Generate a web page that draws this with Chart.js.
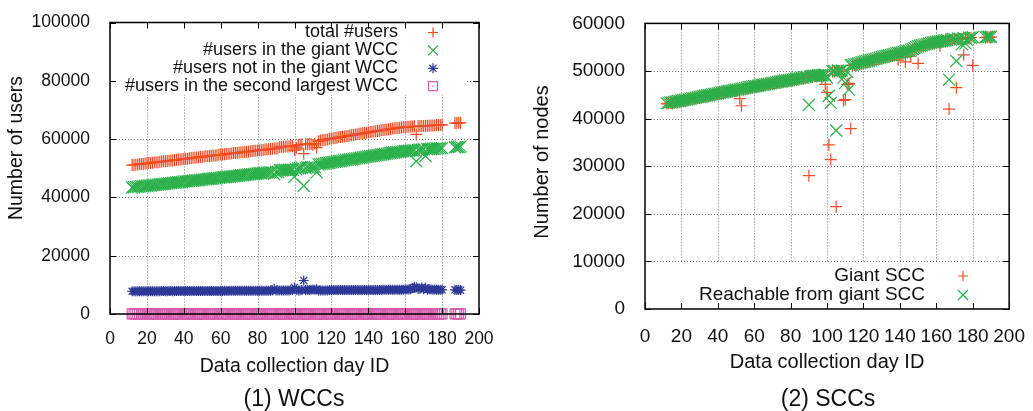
<!DOCTYPE html>
<html>
<head>
<meta charset="utf-8">
<script src="https://cdn.jsdelivr.net/npm/chart.js@4.4.1/dist/chart.umd.min.js"></script>
<style>
  html, body { margin: 0; padding: 0; background: #fff; overflow: hidden; }
  body { width: 1033px; height: 411px; position: relative; font-family: "Liberation Sans", Arial, Helvetica, sans-serif; }
  .panel { position: absolute; top: 0; }
  .caption { position: absolute; font-size: 23px; line-height: 23px; color: #111; white-space: nowrap; transform: translateX(-50%); }
</style>
</head>
<body>
<div class="panel" style="left:0"><canvas id="wcc" width="520" height="411"></canvas></div>
<div class="panel" style="left:520px"><canvas id="scc" width="513" height="411"></canvas></div>
<div class="caption" style="left:294px; top:387px">(1) WCCs</div>
<div class="caption" style="left:828px; top:387px">(2) SCCs</div>
<script>
const days = [
  12, 13, 14, 15, 16, 17, 18, 19, 20, 21,
  22, 23, 24, 25, 26, 27, 28, 29, 30, 31,
  32, 33, 34, 35, 36, 37, 38, 39, 40, 41,
  42, 43, 44, 45, 46, 47, 48, 49, 50, 51,
  52, 53, 54, 55, 56, 57, 58, 59, 60, 61,
  62, 63, 64, 65, 66, 67, 68, 69, 70, 71,
  72, 73, 74, 75, 76, 77, 78, 79, 80, 81,
  82, 83, 84, 85, 86, 87, 88, 89, 90, 91,
  92, 93, 94, 95, 96, 97, 98, 99, 100, 101,
  102, 103, 104, 105, 106, 107, 108, 109, 110, 111,
  112, 113, 114, 115, 116, 117, 118, 119, 120, 121,
  122, 123, 124, 125, 126, 127, 128, 129, 130, 131,
  132, 133, 134, 135, 136, 137, 138, 139, 140, 141,
  142, 143, 144, 145, 146, 147, 148, 149, 150, 151,
  152, 153, 154, 155, 156, 157, 158, 159, 160, 161,
  162, 163, 164, 165, 166, 167, 168, 169, 170, 171,
  172, 173, 174, 175, 176, 177, 178, 179, 180,
  187, 188, 189, 190,
];

// (1) WCCs
const totalUsers = [
  51100, 51200, 51200, 51300, 51400, 51500, 51500, 51600, 51700, 51800,
  51800, 51900, 52000, 52100, 52100, 52200, 52300, 52400, 52400, 52500,
  52600, 52700, 52700, 52800, 52900, 53000, 53000, 53100, 53200, 53300,
  53300, 53400, 53500, 53600, 53600, 53700, 53800, 53900, 53900, 54000,
  54100, 54100, 54200, 54300, 54400, 54400, 54500, 54600, 54700, 54700,
  54800, 54900, 55000, 55000, 55100, 55200, 55200, 55300, 55400, 55500,
  55500, 55600, 55700, 55700, 55800, 55900, 56000, 56000, 56100, 56200,
  56200, 56300, 56400, 56500, 56500, 56600, 56700, 56700, 56800, 56900,
  57300, 57400, 57400, 57500, 57500, 57500, 57600, 57600, 56200, 57000,
  58000, 58100, 58200, 55000, 58300, 58200, 58400, 58300, 58000, 58400,
  57100, 59300, 59500, 59600, 59700, 59800, 59900, 60100, 60200, 60300,
  60400, 60500, 60600, 60700, 60800, 60900, 61000, 61100, 61200, 61300,
  61400, 61600, 61700, 61800, 61900, 62000, 62100, 62200, 62300, 62400,
  62500, 62600, 62700, 62800, 62900, 63000, 63100, 63200, 63300, 63400,
  63500, 63600, 63700, 63800, 63800, 63900, 64000, 64100, 64100, 64200,
  64200, 64300, 64300, 64400, 61600, 64400, 64500, 64500, 64500, 64600,
  64600, 64600, 64700, 64700, 64700, 64800, 64800, 64800, 64900,
  65500, 65500, 65600, 65600,
];
const giantWcc = [
  43400, 43500, 43600, 43600, 43700, 43800, 43800, 43900, 44000, 44100,
  44100, 44200, 44300, 44300, 44400, 44500, 44500, 44600, 44700, 44800,
  44800, 44900, 45000, 45000, 45100, 45200, 45200, 45300, 45400, 45500,
  45500, 45600, 45700, 45700, 45800, 45900, 45900, 46000, 46100, 46200,
  46200, 46300, 46400, 46400, 46500, 46600, 46600, 46700, 46800, 46900,
  46900, 47000, 47100, 47100, 47200, 47300, 47300, 47400, 47500, 47600,
  47600, 47700, 47800, 47800, 47900, 48000, 48000, 48100, 48200, 48300,
  48300, 48400, 48400, 48500, 48500, 48600, 48600, 48000, 48700, 48800,
  49300, 49300, 49400, 49400, 49400, 49500, 49500, 49500, 47100, 49600,
  50000, 50100, 50200, 44000, 50100, 50300, 50200, 50400, 50300, 50400,
  48600, 51300, 51400, 51500, 51600, 51700, 51800, 51900, 52000, 52100,
  52200, 52300, 52400, 52500, 52600, 52700, 52800, 52900, 53000, 53100,
  53200, 53300, 53400, 53500, 53600, 53700, 53800, 53900, 54000, 54100,
  54200, 54300, 54400, 54500, 54600, 54700, 54800, 54900, 55000, 55100,
  55200, 55300, 55400, 55500, 55600, 55600, 55700, 55800, 55900, 55900,
  56000, 56100, 56100, 56200, 52400, 56300, 56400, 56400, 56500, 54200,
  56500, 56600, 56600, 56700, 56700, 56800, 56800, 56900, 56900,
  57200, 57300, 57300, 57400,
];
const notGiantWcc = [
  7800, 7800, 7700, 7800, 7800, 7800, 7800, 7800, 7800, 7800,
  7800, 7800, 7800, 7800, 7800, 7800, 7900, 7900, 7800, 7800,
  7900, 7900, 7800, 7900, 7900, 7900, 7900, 7900, 7900, 7900,
  7900, 7900, 7900, 7900, 7900, 7900, 7900, 7900, 7900, 7900,
  7900, 7900, 7900, 7900, 7900, 7900, 7900, 7900, 7900, 7900,
  8000, 8000, 7900, 8000, 8000, 8000, 8000, 8000, 8000, 8000,
  8000, 8000, 8000, 8000, 8000, 8000, 8000, 8000, 8000, 8000,
  8000, 8000, 8000, 8000, 8000, 8000, 8100, 8700, 8100, 8100,
  8100, 8100, 8100, 8100, 8100, 8100, 8200, 8200, 9100, 8300,
  8100, 8100, 8200, 11500, 8200, 8300, 8200, 8300, 8400, 8300,
  8500, 8100, 8100, 8100, 8100, 8100, 8100, 8200, 8200, 8200,
  8200, 8200, 8200, 8200, 8200, 8200, 8200, 8200, 8200, 8200,
  8200, 8200, 8200, 8200, 8200, 8200, 8200, 8200, 8200, 8200,
  8200, 8200, 8200, 8200, 8200, 8200, 8300, 8300, 8300, 8300,
  8300, 8300, 8300, 8300, 8300, 8300, 8300, 8300, 8400, 8400,
  8400, 8500, 8900, 9200, 9200, 8600, 8700, 9100, 8500, 9000,
  8400, 8500, 8400, 8300, 8400, 8300, 8300, 8300, 8300,
  8300, 8200, 8300, 8200,
];
const secondWcc = [
  40, 30, 30, 40, 50, 30, 20, 40, 30, 30,
  40, 30, 50, 30, 30, 40, 20, 30, 40, 30,
  30, 40, 30, 20, 30, 50, 30, 30, 40, 30,
  30, 30, 40, 30, 30, 20, 30, 40, 30, 30,
  50, 30, 30, 40, 30, 30, 30, 20, 30, 40,
  30, 30, 40, 30, 30, 50, 30, 30, 40, 30,
  30, 20, 30, 40, 30, 30, 30, 40, 30, 30,
  40, 30, 30, 30, 50, 30, 30, 40, 30, 30,
  30, 40, 30, 30, 20, 30, 40, 30, 60, 30,
  30, 40, 30, 70, 30, 30, 40, 30, 30, 40,
  30, 30, 40, 30, 30, 30, 20, 30, 40, 30,
  30, 40, 30, 30, 50, 30, 30, 40, 30, 30,
  30, 30, 40, 30, 30, 20, 30, 40, 30, 30,
  40, 30, 30, 30, 50, 30, 30, 40, 30, 30,
  30, 40, 30, 30, 20, 30, 40, 30, 30, 30,
  40, 30, 30, 50, 40, 30, 30, 40, 30, 30,
  30, 40, 30, 30, 30, 20, 30, 40, 30,
  30, 40, 30, 30,
];

// (2) SCCs
const giantScc = [
  43100, 43200, 43300, 43300, 43400, 43500, 43600, 43600, 43700, 43800,
  43900, 43900, 44000, 44100, 44200, 44200, 44300, 44400, 44500, 44500,
  44600, 44700, 44800, 44800, 44900, 45000, 45100, 45100, 45200, 45300,
  45400, 45400, 45500, 45600, 45700, 45700, 45800, 45900, 46000, 46000,
  44200, 42700, 46200, 46300, 46400, 46500, 46500, 46600, 46700, 46700,
  46800, 46900, 47000, 47000, 47100, 47200, 47200, 47300, 47400, 47400,
  47500, 47600, 47700, 47700, 47800, 47900, 47900, 48000, 48100, 48100,
  48200, 48300, 48300, 48400, 48500, 48500, 48600, 48700, 28000, 48800,
  48900, 48900, 48900, 49000, 49000, 49000, 49100, 47200, 45500, 34500,
  31400, 49900, 49900, 21500, 50000, 49900, 50000, 43800, 44000, 47200,
  47400, 37900, 51200, 51300, 51400, 51500, 51600, 51700, 51800, 51900,
  52000, 52100, 52200, 52300, 52400, 52500, 52600, 52700, 52800, 52900,
  53000, 53100, 53200, 53300, 53400, 53500, 53600, 52300, 53700, 53800,
  53900, 51900, 54100, 54200, 53100, 54500, 54700, 54900, 51600, 55200,
  55300, 55400, 55500, 55600, 55700, 55800, 55900, 55900, 56000, 56100,
  55300, 56200, 56300, 56300, 56400, 42000, 56500, 56600, 56600, 46500,
  56700, 56700, 56800, 53400, 56800, 56900, 56900, 57000, 51200,
  57000, 57100, 57100, 57100,
];
const reachableScc = [
  43200, 43300, 43400, 43400, 43500, 43600, 43700, 43700, 43800, 43900,
  44000, 44000, 44100, 44200, 44300, 44300, 44400, 44500, 44600, 44600,
  44700, 44800, 44900, 44900, 45000, 45100, 45200, 45200, 45300, 45400,
  45500, 45500, 45600, 45700, 45800, 45800, 45900, 46000, 46100, 46100,
  46200, 46300, 46300, 46400, 46500, 46600, 46600, 46700, 46800, 46800,
  46900, 47000, 47100, 47100, 47200, 47300, 47300, 47400, 47500, 47500,
  47600, 47700, 47800, 47800, 47900, 48000, 48000, 48100, 48200, 48200,
  48300, 48400, 48400, 48500, 48600, 48600, 48700, 48800, 42900, 48900,
  49000, 49000, 49000, 49100, 49100, 49100, 49200, 49200, 48600, 44800,
  43300, 50000, 50000, 37500, 50100, 50000, 50100, 48600, 47500, 49800,
  46100, 51200, 51300, 51400, 51500, 51600, 51700, 51800, 51900, 52000,
  52100, 52200, 52300, 52400, 52500, 52600, 52700, 52800, 52900, 53000,
  53100, 53200, 53300, 53400, 53500, 53600, 53700, 53800, 53800, 53900,
  54000, 54100, 54200, 54300, 54500, 54600, 54800, 55000, 55200, 55300,
  55400, 55500, 55600, 55700, 55800, 55900, 56000, 56000, 56100, 56200,
  56200, 56300, 56400, 56400, 56500, 48200, 56600, 56700, 56700, 52100,
  56800, 56800, 55600, 56900, 55800, 56500, 57000, 57000, 57100,
  57100, 57200, 57200, 57200,
];

const RED = "rgb(240,76,36)";
const GREEN = "rgb(42,176,74)";
const BLUE = "rgb(44,56,150)";
const PINK = "rgb(214,92,172)";
const FONT = '"Liberation Sans", Arial, Helvetica, sans-serif';

function points(values) {
  return days.map((d, i) => ({ x: d, y: values[i] }));
}

function series(label, values, style, radius, color, order, extra) {
  return Object.assign({
    label,
    data: points(values),
    showLine: false,
    pointStyle: style,
    pointRadius: radius,
    pointHoverRadius: radius,
    borderColor: color,
    pointBorderColor: color,
    pointBackgroundColor: "rgba(0,0,0,0)",
    pointBorderWidth: 1.2,
    order,
  }, extra || {});
}

// gnuplot-like marks for the key
function drawMark(ctx, style, x, y, h) {
  ctx.beginPath();
  if (style === "cross" || style === "star") {
    ctx.moveTo(x - h, y); ctx.lineTo(x + h, y);
    ctx.moveTo(x, y - h); ctx.lineTo(x, y + h);
  }
  if (style === "crossRot" || style === "star") {
    const d = style === "star" ? h * Math.SQRT1_2 : h;
    ctx.moveTo(x - d, y - d); ctx.lineTo(x + d, y + d);
    ctx.moveTo(x - d, y + d); ctx.lineTo(x + d, y - d);
  }
  if (style === "rect") {
    ctx.rect(x - h, y - h, 2 * h, 2 * h);
    ctx.moveTo(x - 0.6, y); ctx.lineTo(x + 0.6, y);
  }
  ctx.stroke();
}

const gnuplotPlugin = {
  id: "gnuplot",
  beforeDatasetsDraw(chart) {
    const { ctx, chartArea: a, scales: { x, y } } = chart;
    ctx.save();
    ctx.strokeStyle = "#777";
    ctx.lineWidth = 1;
    ctx.setLineDash([1, 2]);
    x.ticks.forEach((t) => {
      if (t.value <= x.min || t.value >= x.max) return;
      const px = Math.round(x.getPixelForValue(t.value)) + 0.5;
      ctx.beginPath(); ctx.moveTo(px, a.top); ctx.lineTo(px, a.bottom); ctx.stroke();
    });
    y.ticks.forEach((t) => {
      if (t.value <= y.min || t.value >= y.max) return;
      const py = Math.round(y.getPixelForValue(t.value)) + 0.5;
      ctx.beginPath(); ctx.moveTo(a.left, py); ctx.lineTo(a.right, py); ctx.stroke();
    });
    ctx.restore();
  },
  afterDatasetsDraw(chart, args, opts) {
    const { ctx, chartArea: a, scales: { x, y } } = chart;
    ctx.save();
    // opaque key
    const b = opts.box;
    ctx.fillStyle = "#fff";
    ctx.fillRect(b[0], b[1], b[2], b[3]);
    ctx.font = opts.keySize + "px " + FONT;
    ctx.textAlign = "right";
    ctx.textBaseline = "middle";
    chart.data.datasets.forEach((ds, i) => {
      const ky = opts.keyTop + i * opts.keyStep;
      ctx.fillStyle = "#111";
      ctx.fillText(ds.label, opts.keyRight, ky);
      ctx.strokeStyle = ds.borderColor;
      ctx.lineWidth = 1.2;
      drawMark(ctx, ds.pointStyle, opts.markX, ky, ds.pointStyle === "rect" ? 4.5 : 5);
    });
    // border with inward ticks on all sides
    ctx.strokeStyle = "#000";
    ctx.lineWidth = 1;
    const tl = 6;
    ctx.beginPath();
    x.ticks.forEach((t) => {
      const px = Math.round(x.getPixelForValue(t.value)) + 0.5;
      ctx.moveTo(px, a.bottom); ctx.lineTo(px, a.bottom - tl);
      ctx.moveTo(px, a.top); ctx.lineTo(px, a.top + tl);
    });
    y.ticks.forEach((t) => {
      const py = Math.round(y.getPixelForValue(t.value)) + 0.5;
      ctx.moveTo(a.left, py); ctx.lineTo(a.left + tl, py);
      ctx.moveTo(a.right, py); ctx.lineTo(a.right - tl, py);
    });
    ctx.stroke();
    ctx.lineWidth = 1.5;
    ctx.strokeRect(a.left, a.top, a.right - a.left, a.bottom - a.top);
    ctx.restore();
  },
  afterDraw(chart, args, opts) {
    const { ctx } = chart;
    ctx.save();
    ctx.font = opts.yTitleSize + "px " + FONT;
    ctx.fillStyle = "#111";
    ctx.textAlign = "center";
    ctx.textBaseline = "middle";
    ctx.translate(opts.yTitleX, opts.yTitleY);
    ctx.rotate(-Math.PI / 2);
    ctx.fillText(opts.yTitle, 0, 0);
    ctx.restore();
  },
};

function makeChart(id, cfg) {
  return new Chart(document.getElementById(id), {
    type: "scatter",
    data: { datasets: cfg.datasets },
    options: {
      responsive: false,
      animation: false,
      events: [],
      layout: { padding: { left: 0, right: cfg.padRight, top: cfg.padTop, bottom: 0 } },
      scales: {
        x: {
          type: "linear",
          min: 0,
          max: 200,
          grid: { display: false },
          border: { display: false },
          ticks: {
            stepSize: 20,
            padding: cfg.xTickPad,
            color: "#111",
            maxRotation: 0,
            autoSkip: false,
            font: { family: FONT, size: cfg.tickSize },
            callback: (v) => String(v),
          },
          title: {
            display: true,
            text: "Data collection day ID",
            color: "#111",
            font: { family: FONT, size: cfg.titleSize },
            padding: { top: 0, bottom: cfg.xTitlePad },
          },
          afterFit: (s) => { s.height = cfg.xAxisHeight; },
        },
        y: {
          type: "linear",
          min: 0,
          max: cfg.yMax,
          grid: { display: false },
          border: { display: false },
          ticks: {
            stepSize: cfg.yStep,
            padding: 12,
            color: "#111",
            font: { family: FONT, size: cfg.tickSize },
            callback: (v) => String(v),
          },
          afterFit: (s) => { s.width = cfg.yAxisWidth; },
        },
      },
      plugins: {
        legend: { display: false },
        tooltip: { enabled: false },
        gnuplot: cfg.gnuplot,
      },
    },
    plugins: [gnuplotPlugin],
  });
}

makeChart("wcc", {
  datasets: [
    series("total #users", totalUsers, "cross", 6, RED, 4),
    series("#users in the giant WCC", giantWcc, "crossRot", 8.5, GREEN, 3),
    series("#users not in the giant WCC", notGiantWcc, "star", 5, BLUE, 2),
    series("#users in the second largest WCC", secondWcc, "rect", 7, PINK, 1, { clip: false }),
  ],
  padRight: 41,
  padTop: 19,
  yMax: 100000,
  yStep: 20000,
  yAxisWidth: 110,
  xAxisHeight: 97,
  xTickPad: 7,
  xTitlePad: 33,
  tickSize: 17.5,
  titleSize: 19.5,
  gnuplot: {
    box: [111, 20, 355, 75],
    keySize: 18,
    keyRight: 398,
    markX: 433,
    keyTop: 32.5,
    keyStep: 17.9,
    yTitle: "Number of users",
    yTitleSize: 19.5,
    yTitleX: 17,
    yTitleY: 148,
  },
});

makeChart("scc", {
  datasets: [
    series("Giant SCC", giantScc, "cross", 6, RED, 2),
    series("Reachable from giant SCC", reachableScc, "crossRot", 8.5, GREEN, 1),
  ],
  padRight: 21,
  padTop: 20,
  yMax: 60000,
  yStep: 10000,
  yAxisWidth: 125,
  xAxisHeight: 102,
  xTickPad: 8,
  xTitlePad: 37,
  tickSize: 19,
  titleSize: 20,
  gnuplot: {
    box: [135, 263, 345, 45],
    keySize: 19,
    keyRight: 405,
    markX: 443,
    keyTop: 276,
    keyStep: 19,
    yTitle: "Number of nodes",
    yTitleSize: 20,
    yTitleX: 22,
    yTitleY: 162,
  },
});
</script>
</body>
</html>
